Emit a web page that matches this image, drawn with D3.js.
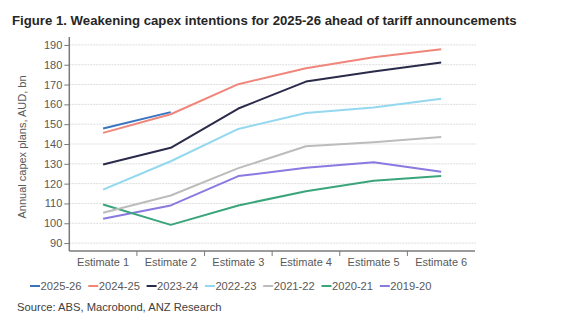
<!DOCTYPE html>
<html><head><meta charset="utf-8">
<script src="https://cdn.jsdelivr.net/npm/d3@7"></script>
<style>body{margin:0;background:#fff;font-family:"Liberation Sans",Arial,sans-serif;}</style>
</head><body><svg id="c" width="566" height="329"></svg>
<script>
const categories = ["Estimate 1","Estimate 2","Estimate 3","Estimate 4","Estimate 5","Estimate 6"];
const yTicks = [90,100,110,120,130,140,150,160,170,180,190];
const s2025_26 = [147.8,156.1];
const s2024_25 = [145.6,155.0,170.2,178.2,183.8,187.8];
const s2023_24 = [129.7,138.1,157.9,171.5,176.6,181.1];
const s2022_23 = [117.0,131.3,147.6,155.6,158.4,162.8];
const s2021_22 = [105.3,114.0,127.8,138.9,140.9,143.5];
const s2020_21 = [109.5,99.2,109.0,116.2,121.4,123.9];
const s2019_20 = [102.3,109.0,123.8,128.0,130.8,126.0];
const seriesNames = ["2025-26","2024-25","2023-24","2022-23","2021-22","2020-21","2019-20"];
const seriesValues = [s2025_26,s2024_25,s2023_24,s2022_23,s2021_22,s2020_21,s2019_20];
const colors = ["#3a74c0","#f0867b","#2a2a4a","#93d8ef","#bcbcbc","#3aa57b","#8a79e0"];

const svg = d3.select("#c");
const L=69.3, R=475, T=37, B=251;
const x = d3.scaleBand().domain(categories).range([L,R]);
const y = d3.scaleLinear().domain([86,194]).range([B,T]);

// title
svg.append("text").attr("x",12).attr("y",25).attr("font-size",13.2).attr("font-weight","bold")
  .attr("fill","#262626").text("Figure 1. Weakening capex intentions for 2025-26 ahead of tariff announcements");

// gridlines
svg.append("g").selectAll("line").data(yTicks).join("line")
  .attr("x1",L).attr("x2",R+1).attr("y1",d=>y(d)).attr("y2",d=>y(d))
  .attr("stroke","#dcdcdc").attr("stroke-width",1).attr("stroke-dasharray","2,1");

// y axis
const ya = svg.append("g").attr("transform",`translate(${L},0)`)
  .call(d3.axisLeft(y).tickValues(yTicks).tickSize(5).tickPadding(2).tickSizeOuter(0));
ya.select(".domain").attr("stroke","#7a7a7a").attr("stroke-width",1.5).attr("d",`M0,${T}V${B}`);
ya.selectAll(".tick line").attr("stroke","#7a7a7a");
ya.selectAll("text").attr("font-size",11).attr("fill","#595959").attr("font-family","Liberation Sans, Arial, sans-serif");

// x axis
const xa = svg.append("g").attr("transform",`translate(0,${B})`)
  .call(d3.axisBottom(x).tickSize(0).tickPadding(7));
xa.select(".domain").attr("stroke","#7a7a7a").attr("stroke-width",1.5).attr("d",`M${L},0H${R}`);
xa.selectAll("text").attr("font-size",11).attr("fill","#595959").attr("font-family","Liberation Sans, Arial, sans-serif");
svg.append("g").selectAll("line").data(categories.slice(1)).join("line")
  .attr("x1",d=>x(d)).attr("x2",d=>x(d)).attr("y1",B).attr("y2",B+5).attr("stroke","#7a7a7a");

// y label
svg.append("text").attr("transform",`translate(26,${(T+B)/2+3}) rotate(-90)`).attr("text-anchor","middle")
  .attr("font-size",11).attr("fill","#595959").text("Annual capex plans, AUD, bn");

// lines (draw older first so newer on top)
const line = d3.line().x((d,i)=>x(categories[i])+x.bandwidth()/2).y(d=>y(d));
const order = [6,5,4,3,2,1,0];
svg.append("g").selectAll("path").data(order).join("path")
  .attr("d",k=>line(seriesValues[k])).attr("fill","none")
  .attr("stroke",k=>colors[k]).attr("stroke-width",2).attr("stroke-linejoin","round");

// legend
const lg = svg.append("g");
const lx0 = 30, lstep = 58.3, ly = 286;
seriesNames.forEach((n,i)=>{
  const gx = lx0 + i*lstep;
  lg.append("line").attr("x1",gx).attr("x2",gx+10).attr("y1",ly).attr("y2",ly)
    .attr("stroke",colors[i]).attr("stroke-width",2);
  lg.append("text").attr("x",gx+10.5).attr("y",ly+4).attr("font-size",11.2).attr("fill","#595959").text(n);
});

// source
svg.append("text").attr("x",17).attr("y",311).attr("font-size",11.2).attr("fill","#404040")
  .text("Source: ABS, Macrobond, ANZ Research");
</script></body></html>
